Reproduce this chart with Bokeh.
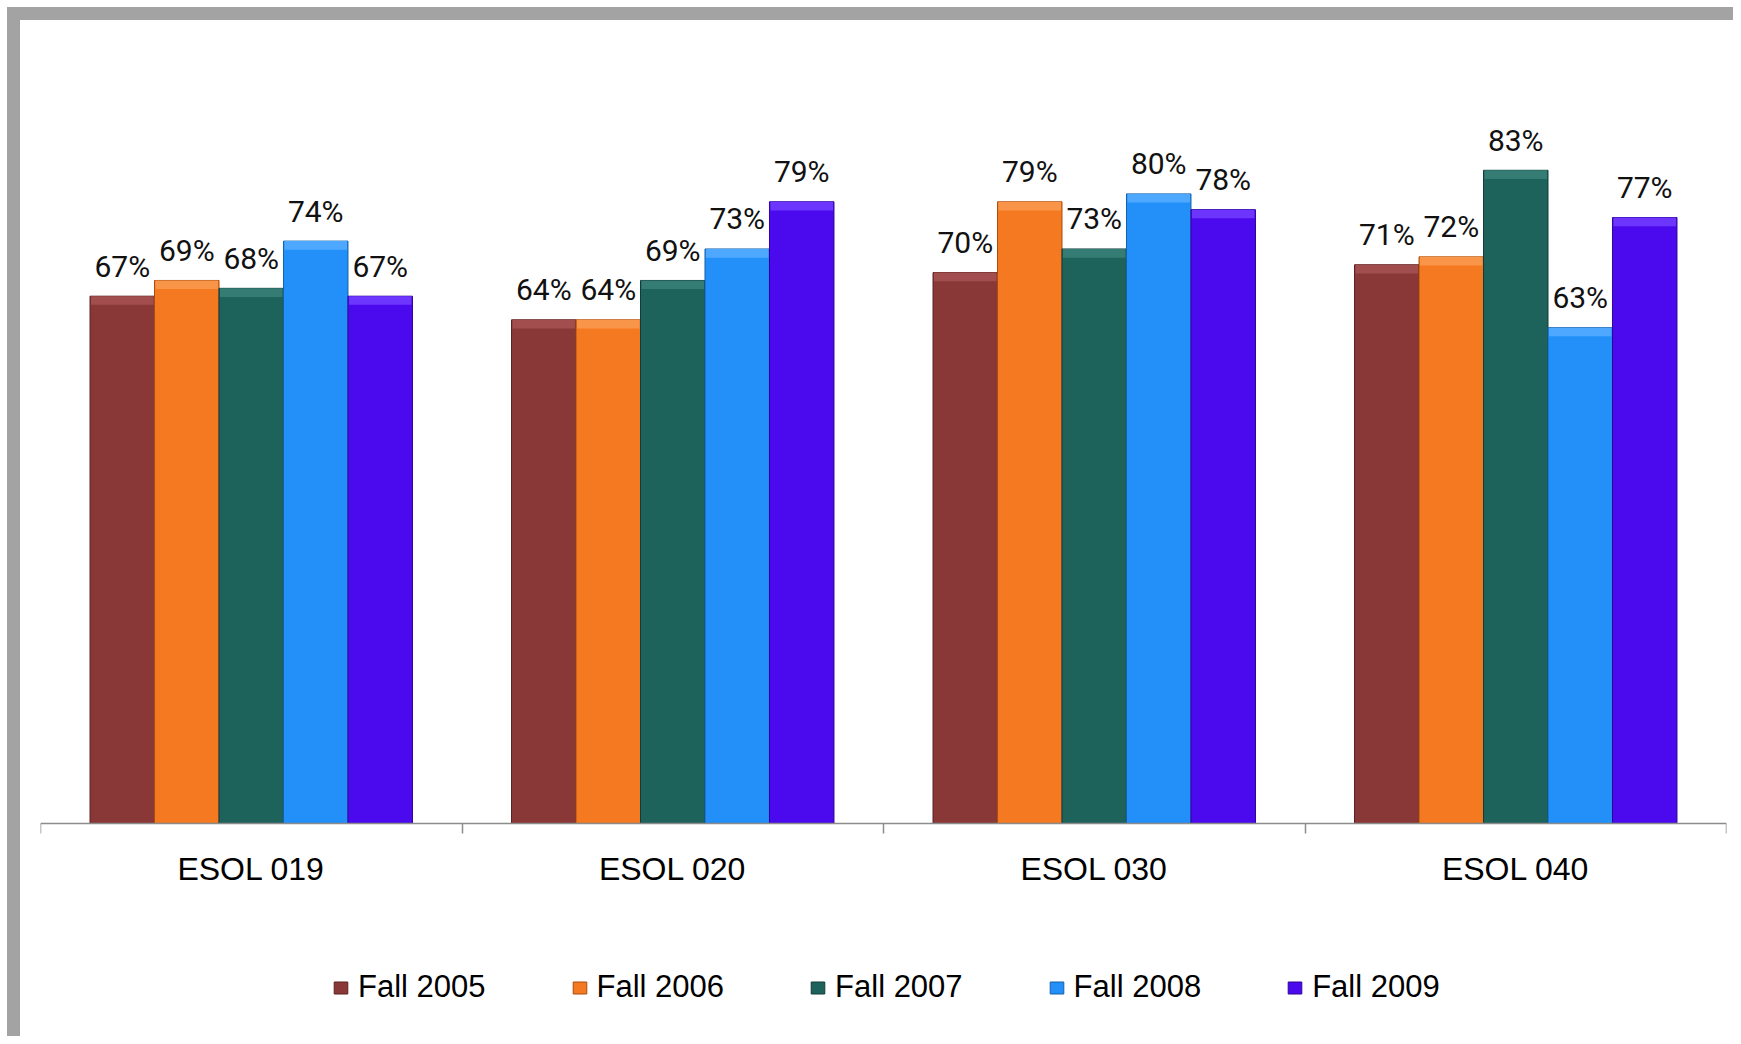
from bokeh.plotting import figure
from bokeh.models import (Range1d, LinearAxis, FixedTicker,
                          ColumnDataSource, Legend, LegendItem)
from bokeh.transform import dodge
from bokeh.core.properties import value
from bokeh.embed import file_html
from bokeh.resources import INLINE

# ---- data ----
courses = ["ESOL 019", "ESOL 020", "ESOL 030", "ESOL 040"]
terms = ["Fall 2005", "Fall 2006", "Fall 2007", "Fall 2008", "Fall 2009"]
fall_2005 = [67, 64, 70, 71]
fall_2006 = [69, 64, 79, 72]
fall_2007 = [68, 69, 73, 83]
fall_2008 = [74, 73, 80, 63]
fall_2009 = [67, 79, 78, 77]
series = [fall_2005, fall_2006, fall_2007, fall_2008, fall_2009]

face = ["#8A3737", "#F47920", "#1E625C", "#2290F8", "#4B0AEE"]
bevel = ["#A24E4E", "#F99548", "#357C74", "#4FA8FF", "#6C36FF"]
edge = ["#5A2222", "#A84F10", "#123C38", "#1560A8", "#2E0598"]

centers = [i + 0.5 for i in range(len(courses))]
bounds = list(range(len(courses) + 1))
data = {"xc": centers}
for i, s in enumerate(series):
    data[f"v{i}"] = s
    data[f"b{i}"] = [v - 1.1 for v in s]
    data[f"l{i}"] = [f"{v}%" for v in s]
src = ColumnDataSource(data)

p = figure(width=1733, height=1036, x_range=Range1d(0, len(courses)), y_range=Range1d(-27.07, 100),
           x_axis_location=None, y_axis_location=None,
           output_backend="svg", toolbar_location=None,
           min_border_left=40, min_border_right=7, min_border_top=36, min_border_bottom=0)
p.border_fill_color = None
p.background_fill_color = None
p.outline_line_color = None
p.xgrid.visible = False
p.ygrid.visible = False
p.styles = {"box-shadow": "inset 7px 7px 0px 0px #ffffff, inset 20px 20px 0px 0px #a3a3a3"}

xaxis = LinearAxis(ticker=FixedTicker(ticks=centers, minor_ticks=bounds),
                   fixed_location=0,
                   major_label_overrides={c: n for c, n in zip(centers, courses)},
                   axis_line_color="#8c8c8c", axis_line_width=1.5,
                   major_tick_line_color=None, major_tick_in=0, major_tick_out=0,
                   minor_tick_line_color="#8c8c8c", minor_tick_line_width=1.5,
                   minor_tick_in=0, minor_tick_out=10,
                   major_label_text_font="Liberation Sans",
                   major_label_text_font_size="32px",
                   major_label_text_color="#000000",
                   major_label_standoff=18)
p.add_layout(xaxis, "below")

w = 0.153
items = []
for i, t in enumerate(terms):
    off = (i - 2) * w
    r = p.vbar(x=dodge("xc", off), top=f"v{i}", bottom=0, width=w,
               source=src, fill_color=face[i], line_color=edge[i], line_width=1)
    p.vbar(x=dodge("xc", off), top=f"v{i}", bottom=f"b{i}", width=w * 0.97,
           source=src, fill_color=bevel[i], line_color=None)
    p.text(x=dodge("xc", off), y=f"v{i}", text=f"l{i}", source=src,
           text_align="center", text_baseline="alphabetic", y_offset=-30,
           text_font=value("Roboto"), text_font_size="30px", text_color="#111111")
    items.append(LegendItem(label=t, renderers=[r]))

legend = Legend(items=items, orientation="horizontal", location=(292, 31),
                glyph_width=17, glyph_height=15, label_standoff=9, spacing=85,
                padding=0, margin=0, border_line_color=None, background_fill_alpha=0,
                label_text_font="Liberation Sans", label_text_font_size="31px",
                label_text_color="#000000")
p.add_layout(legend, "center")

open("out.html", "w").write(file_html(p, INLINE))
